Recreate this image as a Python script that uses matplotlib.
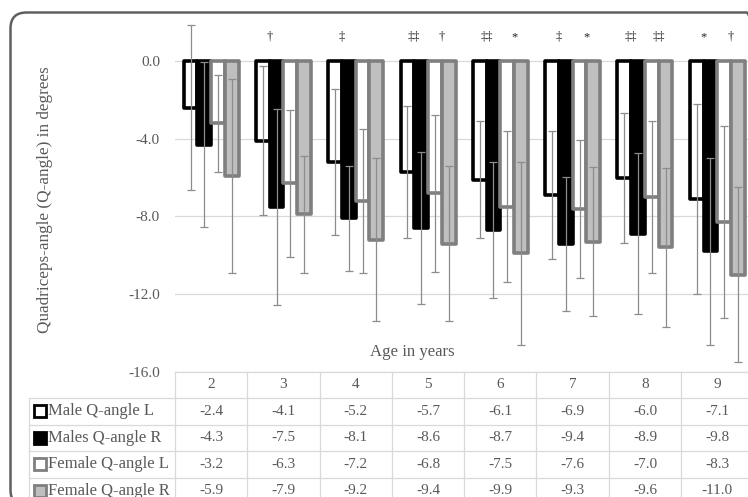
import matplotlib
matplotlib.use("Agg")
import matplotlib.pyplot as plt
import numpy as np
from matplotlib.patches import FancyBboxPatch, Rectangle
from matplotlib.lines import Line2D
import matplotlib.transforms as mtransforms

plt.rcParams['font.family'] = ['Liberation Serif', 'DejaVu Serif']

# ---------------- data ----------------
ages = ["2", "3", "4", "5", "6", "7", "8", "9"]
series_names = ["Male Q-angle L", "Males Q-angle R", "Female Q-angle L", "Female Q-angle R"]
male_l = [-2.4, -4.1, -5.2, -5.7, -6.1, -6.9, -6.0, -7.1]
male_r = [-4.3, -7.5, -8.1, -8.6, -8.7, -9.4, -8.9, -9.8]
female_l = [-3.2, -6.3, -7.2, -6.8, -7.5, -7.6, -7.0, -8.3]
female_r = [-5.9, -7.9, -9.2, -9.4, -9.9, -9.3, -9.6, -11.0]
sd_male_l = [4.25, 3.85, 3.75, 3.4, 3.0, 3.3, 3.35, 4.9]
sd_male_r = [4.25, 5.05, 2.7, 3.9, 3.5, 3.45, 4.15, 4.8]
sd_female_l = [2.5, 3.8, 3.7, 4.05, 3.9, 3.55, 3.9, 4.95]
sd_female_r = [5.0, 3.0, 4.2, 4.0, 4.7, 3.85, 4.1, 4.5]
male_marks = ["", "\u2020", "\u2021", "\u2021\u2021", "\u2021\u2021", "\u2021", "\u2021\u2021", "*"]
female_marks = ["", "", "", "\u2020", "*", "*", "\u2021\u2021", "\u2020"]
y_ticks = [0, -4, -8, -12, -16]
y_label = "Quadriceps-angle (Q-angle) in degrees"
x_label = "Age in years"

values = [male_l, male_r, female_l, female_r]
sds = [sd_male_l, sd_male_r, sd_female_l, sd_female_r]
styles = [
    dict(facecolor="white", edgecolor="black"),
    dict(facecolor="black", edgecolor="black"),
    dict(facecolor="white", edgecolor="#7f7f7f"),
    dict(facecolor="#bfbfbf", edgecolor="#7f7f7f"),
]

TXT = "#595959"
GRID = "#d9d9d9"
W, H = 748, 497


def fx(px):
    return px / W


def fy(py):
    return 1 - py / H


fig = plt.figure(figsize=(W / 100, H / 100), dpi=100)
fig.patch.set_facecolor("white")

ax_top, ax_bot = 22.3, 371.7
ax = fig.add_axes([fx(175), fy(ax_bot), 578.4 / W, (ax_bot - ax_top) / H])
ax.set_facecolor("none")

x = np.arange(len(ages))
w = 0.19
offsets = (np.arange(4) - 1.5) * w

for i in range(4):
    ax.bar(x + offsets[i], values[i], width=w, linewidth=2.6, zorder=2 + i * 0.1,
           joinstyle="round", **styles[i])
for i in range(4):
    ax.errorbar(x + offsets[i], values[i], yerr=sds[i], fmt="none", ecolor="#8c8c8c",
                elinewidth=0.9, capsize=2.8, capthick=0.9, zorder=5)

for i in range(len(ages)):
    ax.text(x[i] - w, 1.25, male_marks[i], ha="center", va="center", fontsize=9,
            color="#262626", zorder=6)
    ax.text(x[i] + w, 1.25, female_marks[i], ha="center", va="center", fontsize=9,
            color="#262626", zorder=6)

ax.set_xlim(-0.5, len(ages) - 0.5)
ax.set_ylim(-16, 2)
ax.set_yticks(y_ticks)
ax.set_yticklabels([("%.1f" % v).replace("\u2212", "-") for v in y_ticks])
ax.set_xticks([])
ax.tick_params(axis="y", length=0, pad=10.8, labelsize=11, labelcolor=TXT)
ax.grid(axis="y", color=GRID, linewidth=0.9)
ax.set_axisbelow(True)
for s in ax.spines.values():
    s.set_visible(False)

# axis titles
fig.text(fx(45), fy(200), y_label, rotation=90, ha="center", va="center",
         fontsize=12.3, color=TXT)
fig.text(fx(412), fy(352), x_label, ha="center", va="center", fontsize=12.1, color=TXT)

# ---------------- data table ----------------
tr = mtransforms.blended_transform_factory(ax.transData, fig.transFigure)
row_lines = [371.7, 398.0, 424.5, 451.0, 477.5, 504.0]
lw_t = 0.9
# header top line (data columns only)
fig.add_artist(Line2D([-0.5, len(ages) - 0.5], [fy(row_lines[0])] * 2, transform=tr,
                      color=GRID, lw=lw_t))
for py in row_lines[1:]:
    fig.add_artist(Line2D([fx(29), 1.05], [fy(py)] * 2, transform=fig.transFigure,
                          color=GRID, lw=lw_t))
for b in np.arange(len(ages) + 1) - 0.5:
    fig.add_artist(Line2D([b, b], [fy(row_lines[0]), fy(row_lines[-1])], transform=tr,
                          color=GRID, lw=lw_t))
fig.add_artist(Line2D([fx(29), fx(29)], [fy(row_lines[1]), fy(row_lines[-1])],
                      transform=fig.transFigure, color=GRID, lw=lw_t))

centers = [(row_lines[k] + row_lines[k + 1]) / 2 for k in range(5)]
for j, a in enumerate(ages):
    fig.text(x[j], fy(centers[0]), a, transform=tr, ha="center", va="center",
             fontsize=11, color=TXT)
for i in range(4):
    cy = centers[i + 1]
    for j in range(len(ages)):
        fig.text(x[j], fy(cy), "%.1f" % values[i][j], transform=tr, ha="center",
                 va="center", fontsize=11, color=TXT)
    key = Rectangle((34, H - cy - 6), 12, 12, transform=mtransforms.IdentityTransform(),
                    linewidth=2.0, **styles[i])
    fig.add_artist(key)
    fig.text(fx(48), fy(cy), series_names[i], ha="left", va="center", fontsize=12,
             color=TXT)

# chart border
border = FancyBboxPatch((10.5, H - 506), 752, 493.5,
                        boxstyle="round,pad=0,rounding_size=16",
                        transform=mtransforms.IdentityTransform(),
                        fill=False, edgecolor="#606060", linewidth=1.8)
fig.add_artist(border)

fig.savefig("out.png", dpi=100)
